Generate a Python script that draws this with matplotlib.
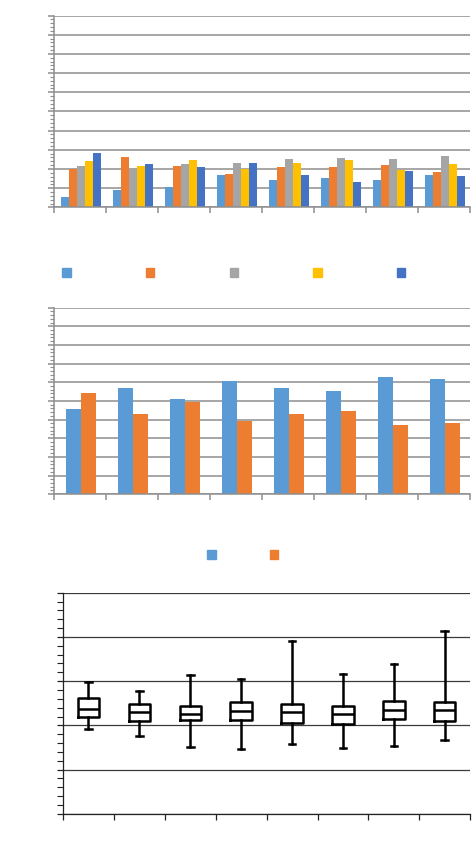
import numpy as np
import matplotlib
matplotlib.use('Agg')
import matplotlib.pyplot as plt
from matplotlib.patches import Patch
from matplotlib.ticker import MultipleLocator

# panel 1: five series over eight groups
groups = np.arange(8)
s1 = [0.56, 0.92, 1.04, 1.67, 1.44, 1.55, 1.44, 1.67]
s2 = [2.00, 2.64, 2.16, 1.74, 2.10, 2.10, 2.21, 1.83]
s3 = [2.14, 2.03, 2.26, 2.31, 2.52, 2.59, 2.52, 2.70]
s4 = [2.42, 2.16, 2.47, 2.02, 2.31, 2.47, 1.93, 2.26]
s5 = [2.83, 2.26, 2.10, 2.31, 1.67, 1.34, 1.88, 1.62]

# panel 2: two series (sum to 100)
p2_a = [45.8, 57.0, 50.8, 60.8, 57.0, 55.3, 62.7, 62.0]
p2_b = [54.2, 43.0, 49.2, 39.2, 43.0, 44.7, 37.3, 38.0]

# panel 3: box plot statistics
whis_hi = [2.99, 2.78, 3.14, 3.05, 3.91, 3.16, 3.39, 4.13]
q3 = [2.62, 2.48, 2.43, 2.53, 2.48, 2.43, 2.55, 2.53]
med = [2.36, 2.30, 2.26, 2.32, 2.30, 2.25, 2.35, 2.35]
q1 = [2.19, 2.10, 2.13, 2.13, 2.06, 2.03, 2.15, 2.10]
whis_lo = [1.93, 1.76, 1.52, 1.46, 1.59, 1.49, 1.54, 1.68]

colors1 = ['#5B9BD5', '#ED7D31', '#A5A5A5', '#FFC000', '#4472C4']
colors2 = ['#5B9BD5', '#ED7D31']
grid_c = '#8e8e8e'

fig = plt.figure(figsize=(4.74, 8.64), dpi=100)


def style_bar_axes(ax, ymax, step):
    ax.set_xlim(0, 8)
    ax.set_ylim(0, ymax)
    ax.yaxis.set_major_locator(MultipleLocator(step))
    ax.yaxis.set_minor_locator(MultipleLocator(step / 5))
    ax.set_xticks(np.arange(9))
    ax.grid(axis='y', color=grid_c, linewidth=1.1)
    ax.set_axisbelow(True)
    for sp in ['top', 'right']:
        ax.spines[sp].set_visible(False)
    for sp in ['left', 'bottom']:
        ax.spines[sp].set_color(grid_c)
        ax.spines[sp].set_linewidth(1.1)
    ax.tick_params(which='both', direction='out', color=grid_c,
                   labelleft=False, labelbottom=False)
    ax.tick_params(which='major', length=4, width=1.1)
    ax.tick_params(which='minor', length=3, width=0.8)
    ax.tick_params(axis='x', which='minor', length=0)


# --- panel 1
ax1 = fig.add_axes([0.114, 0.760, 0.878, 0.222])
series = [s1, s2, s3, s4, s5]
w = 0.155
for k, vals in enumerate(series):
    ax1.bar(groups + 0.52 + (k - 2) * w, vals, w, color=colors1[k], label='')
style_bar_axes(ax1, 10, 1)
h1 = [Patch(color=c) for c in colors1]
ax1.legend(h1, [''] * 5, loc='center left', bbox_to_anchor=(0.020, -0.345),
           ncol=5, frameon=False, handlelength=0.6, handleheight=0.6,
           handletextpad=0.0, columnspacing=5.42, borderpad=0, borderaxespad=0)

# --- panel 2
ax2 = fig.add_axes([0.114, 0.428, 0.878, 0.216])
w2 = 0.29
ax2.bar(groups + 0.52 - w2 / 2, p2_a, w2, color=colors2[0])
ax2.bar(groups + 0.52 + w2 / 2, p2_b, w2, color=colors2[1])
style_bar_axes(ax2, 100, 10)
h2 = [Patch(color=c) for c in colors2]
ax2.legend(h2, [''] * 2, loc='center left', bbox_to_anchor=(0.368, -0.33),
           ncol=2, frameon=False, handlelength=0.6, handleheight=0.6,
           handletextpad=0.0, columnspacing=3.9, borderpad=0, borderaxespad=0)

# --- panel 3
ax3 = fig.add_axes([0.133, 0.058, 0.859, 0.256])
stats = []
for i in range(8):
    stats.append({'med': med[i], 'q1': q1[i], 'q3': q3[i],
                  'whislo': whis_lo[i], 'whishi': whis_hi[i], 'fliers': []})
lw = 1.8
ax3.bxp(stats, positions=groups + 0.5, widths=0.42, showfliers=False,
        boxprops=dict(color='black', linewidth=lw),
        medianprops=dict(color='black', linewidth=lw),
        whiskerprops=dict(color='black', linewidth=lw),
        capprops=dict(color='black', linewidth=lw), capwidths=0.13)
ax3.set_xlim(0, 8)
ax3.set_ylim(0, 5)
ax3.set_xticks(np.arange(9))
ax3.yaxis.set_major_locator(MultipleLocator(1))
ax3.yaxis.set_minor_locator(MultipleLocator(0.2))
ax3.grid(axis='y', color='#3a3a3a', linewidth=0.9)
ax3.set_axisbelow(True)
for sp in ['top', 'right']:
    ax3.spines[sp].set_visible(False)
for sp in ['left', 'bottom']:
    ax3.spines[sp].set_color('#222222')
    ax3.spines[sp].set_linewidth(0.9)
ax3.tick_params(which='both', direction='out', color='#222222',
                labelleft=False, labelbottom=False)
ax3.tick_params(which='major', length=4, width=0.9)
ax3.tick_params(which='minor', length=4, width=0.8)
ax3.tick_params(axis='x', which='minor', length=0)

fig.savefig('out.png', dpi=100)
